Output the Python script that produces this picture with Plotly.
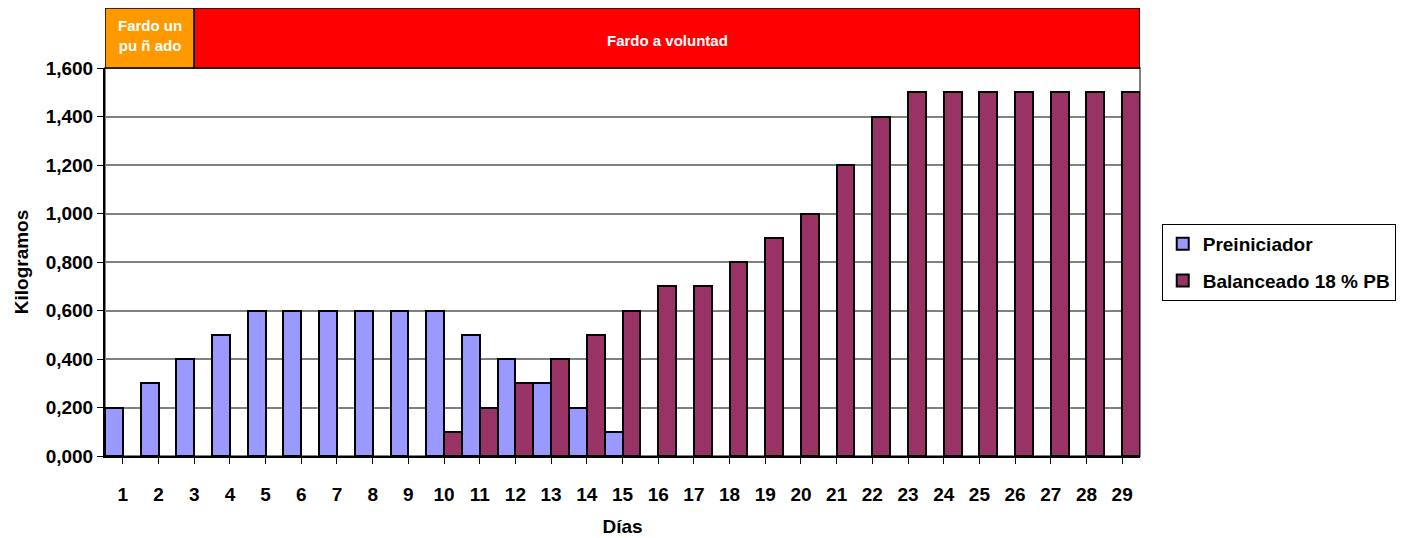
import plotly.graph_objects as go

dias = list(range(1, 30))
preiniciador = [0.2, 0.3, 0.4, 0.5, 0.6, 0.6, 0.6, 0.6, 0.6, 0.6, 0.5, 0.4, 0.3, 0.2, 0.1] + [None] * 14
balanceado = [None] * 9 + [0.1, 0.2, 0.3, 0.4, 0.5, 0.6, 0.7, 0.7, 0.8, 0.9, 1.0, 1.2, 1.4,
                           1.5, 1.5, 1.5, 1.5, 1.5, 1.5, 1.5]
y_ticks = [0, 0.2, 0.4, 0.6, 0.8, 1.0, 1.2, 1.4, 1.6]
y_ticktext = ["0,000", "0,200", "0,400", "0,600", "0,800", "1,000", "1,200", "1,400", "1,600"]

FONT = "Liberation Sans, Arial, sans-serif"
FS = 19

fig = go.Figure()
fig.add_trace(go.Bar(x=dias, y=preiniciador, name="Preiniciador", legendgroup="a",
                     marker=dict(color="#9999FF", line=dict(color="black", width=2))))
fig.add_trace(go.Bar(x=dias, y=balanceado, name="Balanceado 18 % PB", legendgroup="b",
                     marker=dict(color="#993366", line=dict(color="black", width=2))))

top_h = 60 / 388
fig.add_shape(type="rect", xref="x", yref="paper", x0=0.5, x1=3.0, y0=1, y1=1 + top_h,
              fillcolor="#FF9900", line=dict(color="black", width=1.5))
fig.add_shape(type="rect", xref="x", yref="paper", x0=3.0, x1=29.5, y0=1, y1=1 + top_h,
              fillcolor="#FF0000", line=dict(color="black", width=1.5))
fig.add_annotation(x=1.75, xref="x", y=1.084, yref="paper", text="Fardo un<br>pu ñ ado",
                   showarrow=False, xanchor="center", yanchor="middle",
                   font=dict(family=FONT, size=15, color="white", weight="bold"))
fig.add_annotation(x=16.25, xref="x", y=1.072, yref="paper", text="Fardo a voluntad",
                   showarrow=False, xanchor="center", yanchor="middle",
                   font=dict(family=FONT, size=15, color="white", weight="bold"))
# plot frame (top and right in gray)
fig.add_shape(type="rect", xref="paper", yref="paper", x0=0, x1=1, y0=0, y1=1,
              line=dict(color="#808080", width=2), layer="below")

fig.update_layout(
    width=1410, height=538,
    margin=dict(l=97, r=278, t=60, b=90),
    plot_bgcolor="white", paper_bgcolor="white",
    barmode="group", bargap=0, bargroupgap=0,
    font=dict(family=FONT, size=FS, color="black"),
    legend=dict(x=1.021, y=0.598, xanchor="left", yanchor="top",
                bordercolor="black", borderwidth=1,
                font=dict(family=FONT, size=FS, color="black", weight="bold"),
                tracegroupgap=9),
    xaxis=dict(range=[0.5, 29.5], tickmode="array", tickvals=dias,
               ticks="outside", ticklen=6, tickcolor="black", tickson="boundaries",
               showline=True, linecolor="black", linewidth=2, showgrid=False,
               tickfont=dict(family=FONT, size=FS, weight="bold"),
               ticklabelstandoff=14,
               title=dict(text="Días", font=dict(family=FONT, size=FS, weight="bold"), standoff=16)),
    yaxis=dict(range=[0, 1.6], tickmode="array", tickvals=y_ticks, ticktext=y_ticktext,
               ticks="outside", ticklen=6, tickcolor="black",
               showline=True, linecolor="black", linewidth=2,
               showgrid=True, gridcolor="#808080", gridwidth=1.5, zeroline=False,
               tickfont=dict(family=FONT, size=FS, weight="bold"),
               title=dict(text="Kilogramos", font=dict(family=FONT, size=FS, weight="bold"), standoff=12)),
)

fig.write_html("out.html")
